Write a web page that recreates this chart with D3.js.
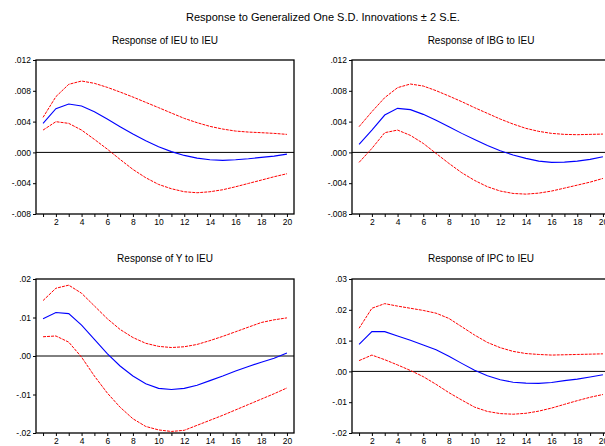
<!DOCTYPE html>
<html>
<head>
<meta charset="utf-8">
<script src="https://cdn.jsdelivr.net/npm/d3@7"></script>
<style>
  body { margin: 0; background: #fff; overflow: hidden; }
  text { font-family: "Liberation Sans", Arial, sans-serif; fill: #000; }
  .tick text { font-size: 8.5px; }
  .title { font-size: 11px; }
  .subtitle { font-size: 10px; }
</style>
</head>
<body>
<div id="chart"></div>
<script>
// periods after the shock
const periods = [1, 2, 3, 4, 5, 6, 7, 8, 9, 10, 11, 12, 13, 14, 15, 16, 17, 18, 19, 20];
const xLabels = [2, 4, 6, 8, 10, 12, 14, 16, 18, 20];

// Response of IEU to IEU
const ieuResp  = [0.00377, 0.00568, 0.00628, 0.00602, 0.00529, 0.00433, 0.00334, 0.00238, 0.00152, 0.00074,
                  0.00010, -0.00039, -0.00074, -0.00095, -0.00104, -0.00095, -0.00082, -0.00065, -0.00048, -0.00022];
const ieuUpper = [0.00455, 0.00724, 0.00884, 0.00927, 0.00897, 0.00845, 0.00784, 0.00719, 0.00650, 0.00581,
                  0.00511, 0.00442, 0.00386, 0.00338, 0.00303, 0.00277, 0.00264, 0.00256, 0.00247, 0.00234];
const ieuLower = [0.00290, 0.00399, 0.00377, 0.00290, 0.00169, 0.00043, -0.00091, -0.00221, -0.00329, -0.00416,
                  -0.00472, -0.00511, -0.00524, -0.00511, -0.00485, -0.00446, -0.00403, -0.00360, -0.00316, -0.00277];

// Response of IBG to IEU
const ibgResp  = [0.00104, 0.00290, 0.00485, 0.00572, 0.00555, 0.00494, 0.00416, 0.00334, 0.00247, 0.00169,
                  0.00091, 0.00022, -0.00035, -0.00078, -0.00113, -0.00130, -0.00126, -0.00113, -0.00091, -0.00056];
const ibgUpper = [0.00334, 0.00529, 0.00711, 0.00841, 0.00888, 0.00862, 0.00802, 0.00732, 0.00659, 0.00581,
                  0.00507, 0.00433, 0.00368, 0.00312, 0.00273, 0.00247, 0.00234, 0.00230, 0.00234, 0.00238];
const ibgLower = [-0.00130, 0.00052, 0.00256, 0.00290, 0.00221, 0.00117, -0.00013, -0.00143, -0.00264, -0.00364,
                  -0.00446, -0.00502, -0.00533, -0.00542, -0.00529, -0.00502, -0.00464, -0.00425, -0.00386, -0.00338];

// Response of Y to IEU
const yResp  = [0.0097, 0.0113, 0.0110, 0.0080, 0.0043, 0.0006, -0.0026, -0.0052, -0.0072, -0.0084,
                -0.0087, -0.0084, -0.0076, -0.0064, -0.0052, -0.0039, -0.0027, -0.0016, -0.0006, 0.0008];
const yUpper = [0.0144, 0.0176, 0.0184, 0.0163, 0.0130, 0.0097, 0.0069, 0.0048, 0.0033, 0.0025,
                0.0022, 0.0024, 0.0030, 0.0040, 0.0051, 0.0063, 0.0075, 0.0087, 0.0094, 0.0099];
const yLower = [0.0050, 0.0052, 0.0036, -0.0003, -0.0052, -0.0096, -0.0133, -0.0163, -0.0183, -0.0192,
                -0.0196, -0.0193, -0.0180, -0.0167, -0.0154, -0.0140, -0.0126, -0.0112, -0.0098, -0.0083];

// Response of IPC to IEU
const ipcResp  = [0.0088, 0.0129, 0.0129, 0.0115, 0.0101, 0.0086, 0.0070, 0.0049, 0.0026, 0.0004,
                  -0.0014, -0.0027, -0.0035, -0.0038, -0.0039, -0.0036, -0.0030, -0.0025, -0.0018, -0.0011];
const ipcUpper = [0.0140, 0.0205, 0.0220, 0.0212, 0.0205, 0.0198, 0.0189, 0.0172, 0.0145, 0.0118,
                  0.0094, 0.0077, 0.0065, 0.0058, 0.0055, 0.0053, 0.0054, 0.0055, 0.0056, 0.0057];
const ipcLower = [0.0035, 0.0053, 0.0038, 0.0021, 0.0003, -0.0017, -0.0042, -0.0069, -0.0093, -0.0116,
                  -0.0130, -0.0137, -0.0139, -0.0136, -0.0129, -0.0119, -0.0107, -0.0095, -0.0084, -0.0075];

// y ticks per panel
const ticksSmall = [-0.008, -0.004, 0, 0.004, 0.008, 0.012];
const ticksY = [-0.02, -0.01, 0, 0.01, 0.02];
const ticksIpc = [-0.02, -0.01, 0, 0.01, 0.02, 0.03];

const mainTitle = 'Response to Generalized One S.D. Innovations \u00b1 2 S.E.';

const width = 605, height = 446;

const svg = d3.select('#chart')
    .append('svg')
    .attr('width', width)
    .attr('height', height);

svg.append('text')
    .attr('class', 'title')
    .attr('x', 323)
    .attr('y', 21)
    .attr('text-anchor', 'middle')
    .text(mainTitle);

// strip leading zero like ".004" / "-.01"
const fmt = (digits) => v => {
    const s = d3.format('.' + digits + 'f')(Math.abs(v)).replace(/^0/, '');
    return (v < 0 ? '-' : '') + s;
};

const panels = [
    {title: 'Response of IEU to IEU', left: 36, top: 60, resp: ieuResp, upper: ieuUpper, lower: ieuLower, ticks: ticksSmall, digits: 3, titleY: 44},
    {title: 'Response of IBG to IEU', left: 352, top: 60, resp: ibgResp, upper: ibgUpper, lower: ibgLower, ticks: ticksSmall, digits: 3, titleY: 44},
    {title: 'Response of Y to IEU', left: 36, top: 279, resp: yResp, upper: yUpper, lower: yLower, ticks: ticksY, digits: 2, titleY: 262},
    {title: 'Response of IPC to IEU', left: 352, top: 279, resp: ipcResp, upper: ipcUpper, lower: ipcLower, ticks: ticksIpc, digits: 2, titleY: 262}
];

const pw = 258, ph = 154;

panels.forEach(p => {
    const g = svg.append('g').attr('transform', `translate(${p.left},${p.top})`);

    const x = d3.scaleLinear().domain([0.45, 20.55]).range([0, pw]);
    const y = d3.scaleLinear().domain(d3.extent(p.ticks)).range([ph, 0]);

    svg.append('text')
        .attr('class', 'subtitle')
        .attr('x', p.left + pw / 2)
        .attr('y', p.titleY)
        .attr('text-anchor', 'middle')
        .text(p.title);

    // x axis: tick on each period, label on the even ones
    const xAxis = d3.axisBottom(x)
        .tickValues(periods)
        .tickSize(3)
        .tickPadding(2)
        .tickFormat(d => xLabels.includes(d) ? d : '');
    g.append('g')
        .attr('transform', `translate(0,${ph})`)
        .call(xAxis)
        .call(a => a.select('.domain').remove());

    const yAxis = d3.axisLeft(y)
        .tickValues(p.ticks)
        .tickSize(3)
        .tickPadding(2)
        .tickFormat(fmt(p.digits));
    g.append('g')
        .call(yAxis)
        .call(a => a.select('.domain').remove());

    // zero line
    g.append('line')
        .attr('x1', 0).attr('x2', pw)
        .attr('y1', y(0)).attr('y2', y(0))
        .attr('stroke', '#000')
        .attr('stroke-width', 1);

    const line = d3.line()
        .x((d, i) => x(periods[i]))
        .y(d => y(d));

    g.append('path')
        .datum(p.upper)
        .attr('d', line)
        .attr('fill', 'none')
        .attr('stroke', '#ff0000')
        .attr('stroke-width', 1)
        .attr('stroke-dasharray', '3,1');

    g.append('path')
        .datum(p.lower)
        .attr('d', line)
        .attr('fill', 'none')
        .attr('stroke', '#ff0000')
        .attr('stroke-width', 1)
        .attr('stroke-dasharray', '3,1');

    g.append('path')
        .datum(p.resp)
        .attr('d', line)
        .attr('fill', 'none')
        .attr('stroke', '#0000ff')
        .attr('stroke-width', 1.1);

    // frame
    g.append('rect')
        .attr('width', pw)
        .attr('height', ph)
        .attr('fill', 'none')
        .attr('stroke', '#000')
        .attr('stroke-width', 1.3);
});
</script>
</body>
</html>
